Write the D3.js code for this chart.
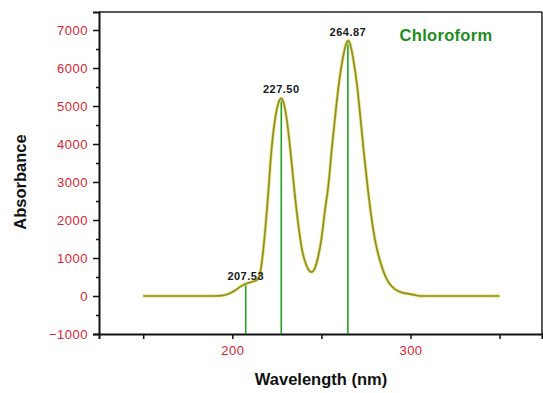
<!DOCTYPE html>
<html><head><meta charset="utf-8">
<script src="https://cdn.jsdelivr.net/npm/d3@7"></script>
<style>
html,body{margin:0;padding:0;background:#fff;}
svg{display:block;font-family:"Liberation Sans",Arial,sans-serif;}
</style></head>
<body><svg id="c" width="543" height="393"></svg>
<script>
const wavelength = [150,160,170,180,190,194,198,202,205,208,211,214,216,218,220,222,224,226,227.5,229,231,233,235,237,239,241,243,244.5,246,248,250,252,254,256,258,260,262,264,265,266,268,270,272,274,276,278,280,282,284,286,288,290,293,296,300,303,306,320,335,350];
const absorbance = [0,0,0,0,0,10,60,160,260,330,370,430,700,1500,2600,3850,4650,5100,5200,5050,4500,3650,2700,1900,1250,880,680,630,700,1000,1500,2250,2950,3950,4850,5650,6250,6650,6720,6650,6200,5550,4650,3700,2850,2100,1500,1080,760,510,340,230,130,80,50,20,0,0,0,0];
const peakWl = [207.53, 227.50, 264.87];
const peakAbs = [300, 5200, 6720];
const peakLabels = ["207.53", "227.50", "264.87"];
const yTicks = [-1000,0,1000,2000,3000,4000,5000,6000,7000];
const yMinor = [-500,500,1500,2500,3500,4500,5500,6500];
const xTicks = [150,200,250,300,350];
const xTickLabels = ["", "200", "", "300", ""];
const seriesName = "Chloroform";
const xTitle = "Wavelength (nm)";
const yTitle = "Absorbance";

const svg = d3.select("#c");
const L = 99, R = 542, T = 12, B = 334;
const x = d3.scaleLinear().domain([125.2, 373.8]).range([L, R]);
const y = d3.scaleLinear().domain([-1000, 7474]).range([B, T]);

const red = "#d8232f";

// frame top/right
svg.append("line").attr("x1", L).attr("x2", R).attr("y1", T).attr("y2", T).attr("stroke", "#222").attr("stroke-width", 1.5);
svg.append("line").attr("x1", R).attr("x2", R).attr("y1", T).attr("y2", B).attr("stroke", "#222").attr("stroke-width", 1.5);

// y axis
const ya = svg.append("g").attr("transform", `translate(${L},0)`)
  .call(d3.axisLeft(y).tickValues(yTicks).tickSize(6).tickPadding(5).tickFormat(d3.format("d")));
ya.select(".domain").attr("stroke", "#111").attr("stroke-width", 2);
ya.selectAll(".tick line").attr("stroke", "#111").attr("stroke-width", 1.5);
ya.selectAll(".tick text").attr("fill", red).attr("font-size", 13).attr("letter-spacing", "0.5px")
  .attr("font-family", "'Liberation Sans',Arial,sans-serif");
const ym = svg.append("g").attr("transform", `translate(${L},0)`)
  .call(d3.axisLeft(y).tickValues(yMinor).tickSize(3).tickFormat(""));
ym.select(".domain").remove();
ym.selectAll(".tick line").attr("stroke", "#111").attr("stroke-width", 1.5);

// x axis
const xa = svg.append("g").attr("transform", `translate(0,${B})`)
  .call(d3.axisBottom(x).tickValues(xTicks).tickSize(5).tickPadding(7).tickFormat((d, i) => xTickLabels[i]));
xa.select(".domain").attr("stroke", "#111").attr("stroke-width", 2);
xa.selectAll(".tick line").attr("stroke", "#111").attr("stroke-width", 1.5);
xa.selectAll(".tick text").attr("fill", red).attr("font-size", 13).attr("letter-spacing", "0.5px")
  .attr("font-family", "'Liberation Sans',Arial,sans-serif");

// peak vertical lines
svg.append("g").selectAll("line").data(peakWl).join("line")
  .attr("x1", d => x(d)).attr("x2", d => x(d))
  .attr("y1", B).attr("y2", (d, i) => y(peakAbs[i]))
  .attr("stroke", "#22a022").attr("stroke-width", 1.6);

// curve
const pts = wavelength.map((w, i) => [w, absorbance[i]]);
const lineGen = d3.line().x(d => x(d[0])).y(d => y(d[1])).curve(d3.curveMonotoneX);
svg.append("path").attr("d", lineGen(pts)).attr("fill", "none")
  .attr("stroke", "#e4e070").attr("stroke-width", 3.4).attr("stroke-opacity", 0.8);
svg.append("path").attr("d", lineGen(pts)).attr("fill", "none")
  .attr("stroke", "#8e8e22").attr("stroke-width", 1.7);

// peak labels
svg.append("g").selectAll("text").data(peakLabels).join("text")
  .attr("x", (d, i) => x(peakWl[i]))
  .attr("y", (d, i) => y(peakAbs[i]) - 5)
  .attr("text-anchor", "middle").attr("font-size", 11).attr("font-weight", "bold")
  .attr("letter-spacing", "0.5px").attr("fill", "#1a1a1a").text(d => d);

// series name
svg.append("text").attr("x", 446).attr("y", 41).attr("text-anchor", "middle")
  .attr("font-size", 16.5).attr("font-weight", "bold").attr("fill", "#1d8c1d").attr("letter-spacing", "0.3px")
  .text(seriesName);

// axis titles
svg.append("text").attr("x", (L + R) / 2 + 0.5).attr("y", 385).attr("text-anchor", "middle")
  .attr("font-size", 16.5).attr("font-weight", "bold").attr("fill", "#111").text(xTitle);
svg.append("text").attr("transform", `translate(26,182) rotate(-90)`).attr("text-anchor", "middle")
  .attr("font-size", 16.5).attr("font-weight", "bold").attr("fill", "#111").text(yTitle);
</script></body></html>
